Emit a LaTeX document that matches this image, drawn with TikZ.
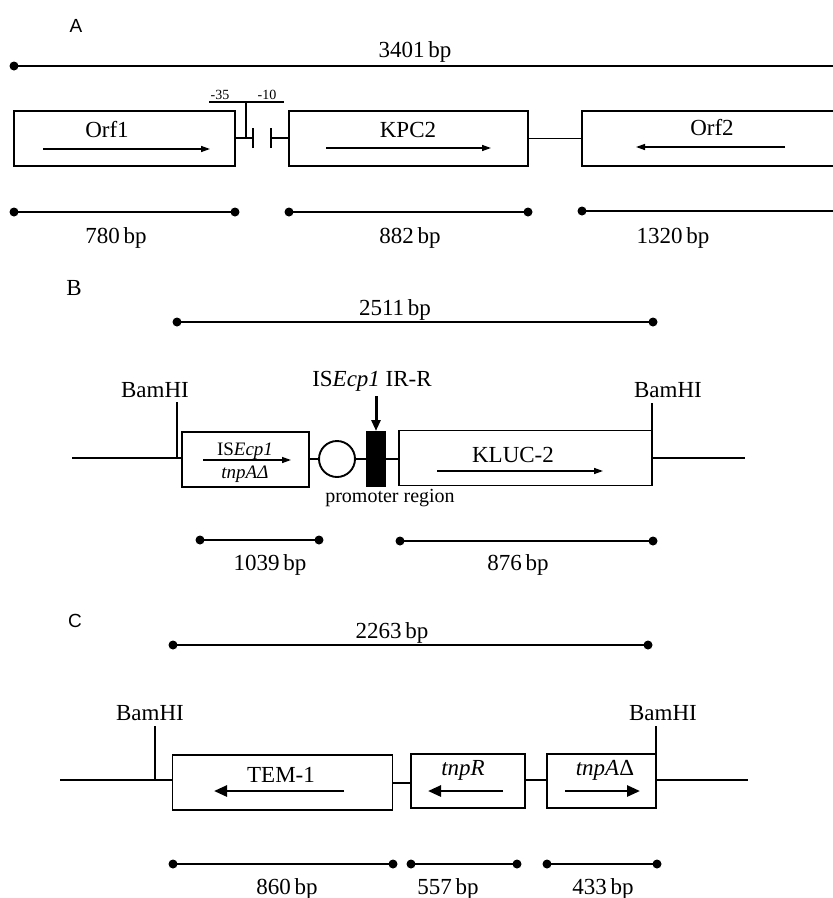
\documentclass[tikz,border=0pt]{standalone}
\usepackage{fontspec}
\setmainfont{Liberation Serif}
\newfontfamily\arialf{Liberation Sans}
\usetikzlibrary{arrows.meta}
\begin{document}
\begin{tikzpicture}[x=1pt,y=-1pt,
  every node/.style={inner sep=0pt, outer sep=0pt},
  txt/.style={anchor=base, font=\fontsize{23}{26}\selectfont},
  smalltxt/.style={anchor=base, font=\fontsize{14}{16}\selectfont},
  boxtxt/.style={anchor=base, font=\fontsize{19}{22}\selectfont},
  promtxt/.style={anchor=base, font=\fontsize{20}{22}\selectfont},
  paneltxt/.style={anchor=base, font=\arialf\fontsize{19}{22}\selectfont},
  seg/.style={line width=1.9pt},
  gbox/.style={draw, line width=1.9pt, rectangle, minimum height=55pt},
  dim/.style={line width=1.9pt},
  dotstyle/.style={circle, fill, minimum size=9pt, inner sep=0pt},
  thinarr/.style={line width=1.4pt, -{Triangle[length=9pt,width=6pt]}},
  thickarr/.style={line width=2.6pt, -{Triangle[length=13pt,width=11pt]}},
]
\useasboundingbox (0,0) rectangle (833,898);
\clip (0,0) rectangle (833,898);

% ---------------- Panel A ----------------
\node[paneltxt] (labA) at (76,32) {A};
\node[dotstyle] (aTopL) at (14,66) {};
\coordinate (aTopR) at (840,66);
\draw[dim] (aTopL.center) -- (aTopR);
\node[txt] (t3401) at (415,57) {3401\,bp};

\node[gbox, minimum width=221pt] (orf1) at (124.5,138.5) {};
\node[gbox, minimum width=239pt] (kpc2) at (408.5,138.5) {};
\node[gbox, minimum width=268pt] (orf2) at (716,138.5) {};
\node[txt] (orf1t) at (107,137) {Orf1};
\node[txt] (kpc2t) at (408,137) {KPC2};
\node[txt] (orf2t) at (712,135) {Orf2};
\coordinate (orf1a) at (43,149); \coordinate (orf1b) at (210,149);
\draw[thinarr] (orf1a) -- (orf1b);
\coordinate (kpc2a) at (326,148); \coordinate (kpc2b) at (491,148);
\draw[thinarr] (kpc2a) -- (kpc2b);
\coordinate (orf2a) at (785,147); \coordinate (orf2b) at (636,147);
\draw[thinarr] (orf2a) -- (orf2b);

% promoter
\coordinate (pj) at (246,138);
\coordinate (pt) at (246,102);
\coordinate (barL) at (209,102); \coordinate (barR) at (284,102);
\coordinate (tk1) at (253,138); \coordinate (tk2) at (271,138);
\draw[seg] (orf1.east |- pj) -- (tk1);
\draw[seg] (pj) -- (pt);
\draw[seg] (barL) -- (barR);
\draw[seg] ([yshift=-10pt]tk1) -- ([yshift=10pt]tk1);
\draw[seg] ([yshift=-10pt]tk2) -- ([yshift=10pt]tk2);
\draw[seg] (tk2) -- (kpc2.west |- tk2);
\node[smalltxt] (m35) at (220,99) {-35};
\node[smalltxt] (m10) at (267,99) {-10};
\draw[seg] (kpc2.east) -- (orf2.west);

% dimensions A
\node[dotstyle] (d1a) at (14,212) {};
\node[dotstyle] (d1b) at (235,212) {};
\draw[dim] (d1a.center) -- (d1b.center);
\node[dotstyle] (d2a) at (289,212) {};
\node[dotstyle] (d2b) at (528,212) {};
\draw[dim] (d2a.center) -- (d2b.center);
\node[dotstyle] (d3a) at (582,211) {};
\coordinate (d3b) at (840,211);
\draw[dim] (d3a.center) -- (d3b);
\node[txt] (t780) at (116,243) {780\,bp};
\node[txt] (t882) at (410,243) {882\,bp};
\node[txt] (t1320) at (673,243) {1320\,bp};

% ---------------- Panel B ----------------
\node[txt] (labB) at (74,295) {B};
\node[dotstyle] (bTopL) at (177,322) {};
\node[dotstyle] (bTopR) at (653,322) {};
\draw[dim] (bTopL.center) -- (bTopR.center);
\node[txt] (t2511) at (395,315) {2511\,bp};

\node[gbox, minimum width=127pt] (isecp) at (245.5,459.5) {};
\node[boxtxt] (isecpt) at (245,455) {IS\textit{Ecp1}};
\node[boxtxt] (tnpat) at (245,478) {\textit{tnpA}\textit{\char"0394}};
\coordinate (isa) at (203,460); \coordinate (isb) at (291,460);
\draw[thinarr] (isa) -- (isb);
\node[draw, circle, line width=1.9pt, minimum size=36pt] (circ) at (337,459) {};
\node[fill, rectangle, minimum width=20pt, minimum height=56pt] (irr) at (376,459) {};
\node[gbox, minimum width=253pt] (kluc) at (525.5,458) {};
\node[txt] (kluct) at (513,462) {KLUC-2};
\coordinate (kla) at (437,471); \coordinate (klb) at (603,471);
\draw[thinarr] (kla) -- (klb);
\draw[seg] (isecp.east |- circ.west) -- (circ.west);
\draw[seg] (circ.east) -- (irr.west |- circ.east);
\draw[seg] (irr.east |- circ.east) -- (kluc.west |- circ.east);

\coordinate (bLstart) at (72,458);
\coordinate (bLbam) at (177,458);
\draw[seg] (bLstart) -- (isecp.west |- bLstart);
\coordinate (bLtop) at (177,402);
\draw[seg] (bLtop) -- (bLbam);
\node[txt] (bamB1) at (155,397) {BamHI};
\coordinate (bRtop) at (652,403);
\draw[seg] (bRtop) -- (kluc.north east);
\coordinate (bRend) at (745,458);
\draw[seg] (kluc.east) -- (bRend);
\node[txt] (bamB2) at (668,397) {BamHI};

\node[txt] (irrt) at (372,386) {IS\textit{Ecp1} IR-R};
\coordinate (irrA) at (376,396);
\draw[line width=3pt, -{Triangle[length=11pt,width=9pt]}] (irrA) -- (irr.north);
\node[promtxt] (promt) at (390,502) {promoter region};

\node[dotstyle] (d4a) at (200,540) {};
\node[dotstyle] (d4b) at (319,540) {};
\draw[dim] (d4a.center) -- (d4b.center);
\node[dotstyle] (d5a) at (400,541) {};
\node[dotstyle] (d5b) at (653,541) {};
\draw[dim] (d5a.center) -- (d5b.center);
\node[txt] (t1039) at (270,570) {1039\,bp};
\node[txt] (t876) at (518,570) {876\,bp};

% ---------------- Panel C ----------------
\node[paneltxt] (labC) at (75,627) {C};
\node[dotstyle] (cTopL) at (173,645) {};
\node[dotstyle] (cTopR) at (648,645) {};
\draw[dim] (cTopL.center) -- (cTopR.center);
\node[txt] (t2263) at (392,638) {2263\,bp};

\node[gbox, minimum width=220pt] (tem) at (282.5,782.5) {};
\node[gbox, minimum width=114pt, minimum height=54pt] (tnpr) at (468,781) {};
\node[gbox, minimum width=109pt, minimum height=54pt] (tnpa) at (601.5,781) {};
\node[txt] (temt) at (281,782) {TEM-1};
\node[txt] (tnprt) at (463,775) {\textit{tnpR}};
\node[txt] (tnpatC) at (605,775) {\textit{tnpA}\char"0394};
\coordinate (tma) at (344,791); \coordinate (tmb) at (214,791);
\draw[thickarr] (tma) -- (tmb);
\coordinate (tra) at (503,791); \coordinate (trb) at (428,791);
\draw[thickarr] (tra) -- (trb);
\coordinate (taa) at (565,791); \coordinate (tab) at (640,791);
\draw[thickarr] (taa) -- (tab);
\draw[seg] (tem.east |- 0,783) -- (tnpr.west |- 0,783);
\draw[seg] (tnpr.east |- 0,780) -- (tnpa.west |- 0,780);

\coordinate (cLstart) at (60,780);
\coordinate (cLbam) at (155,780);
\draw[seg] (cLstart) -- (tem.west |- cLstart);
\coordinate (cLtop) at (155,726);
\draw[seg] (cLtop) -- (cLbam);
\node[txt] (bamC1) at (150,720) {BamHI};
\coordinate (cRtop) at (656,726);
\draw[seg] (cRtop) -- (tnpa.north east);
\coordinate (cRend) at (748,780);
\draw[seg] (tnpa.east |- cRend) -- (cRend);
\node[txt] (bamC2) at (663,720) {BamHI};

\node[dotstyle] (d6a) at (173,864) {};
\node[dotstyle] (d6b) at (393,864) {};
\draw[dim] (d6a.center) -- (d6b.center);
\node[dotstyle] (d7a) at (411,864) {};
\node[dotstyle] (d7b) at (517,864) {};
\draw[dim] (d7a.center) -- (d7b.center);
\node[dotstyle] (d8a) at (547,864) {};
\node[dotstyle] (d8b) at (657,864) {};
\draw[dim] (d8a.center) -- (d8b.center);
\node[txt] (t860) at (287,894) {860\,bp};
\node[txt] (t557) at (448,894) {557\,bp};
\node[txt] (t433) at (603,894) {433\,bp};
\end{tikzpicture}
\end{document}
